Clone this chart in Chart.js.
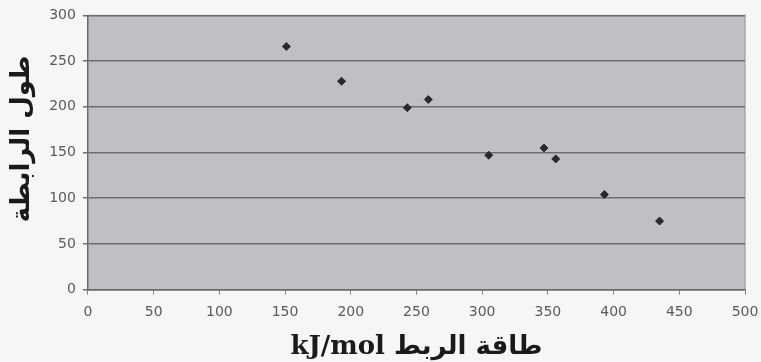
<!DOCTYPE html>
<html>
<head>
<meta charset="utf-8">
<script src="https://cdn.jsdelivr.net/npm/chart.js@4.4.0/dist/chart.umd.min.js"></script>
<style>
    body { margin: 0; background: #f6f6f6; }
    #box { width: 761px; height: 362px; }
</style>
</head>
<body>
<div id="box"><canvas id="myChart" width="761" height="362"></canvas></div>
<script>
var energia = [151, 193, 243, 259, 305, 347, 356, 393, 435];
var lunghezza = [266, 228, 199, 208, 147, 155, 143, 104, 75];
var titolo_x = 'kJ/mol طاقة الربط';
// spazi davanti per alzare un po' il testo come nell'originale
var titolo_y = '\u00a0\u00a0\u00a0طول الرابطة';

var sfondo_area = {
    id: 'sfondo_area',
    beforeDraw: function (chart) {
        var a = chart.chartArea;
        var ctx = chart.ctx;
        ctx.save();
        ctx.fillStyle = '#c0c0c4';
        ctx.fillRect(a.left, a.top, a.right - a.left, a.bottom - a.top);
        ctx.strokeStyle = '#a8a8ac';
        ctx.lineWidth = 1.5;
        ctx.beginPath();
        ctx.moveTo(a.left, a.top);
        ctx.lineTo(a.right, a.top);
        ctx.lineTo(a.right, a.bottom);
        ctx.stroke();
        ctx.restore();
    }
};

function punti() {
    var out = [];
    for (var i = 0; i < energia.length; i++) {
        out.push({ x: energia[i], y: lunghezza[i] });
    }
    return out;
}

function chart1() {
    var ctx = document.getElementById('myChart').getContext('2d');
    new Chart(ctx, {
        type: 'scatter',
        data: {
            datasets: [{
                data: punti(),
                pointStyle: 'rectRot',
                pointRadius: 4,
                backgroundColor: '#2a2a2e',
                borderColor: '#2a2a2e',
                borderWidth: 1
            }]
        },
        options: {
            responsive: false,
            animation: false,
            layout: { padding: { top: 10, right: 0, left: 7, bottom: 0 } },
            plugins: { legend: { display: false }, tooltip: { enabled: false } },
            scales: {
                x: {
                    min: 0, max: 500,
                    afterFit: function (scale) { scale.paddingRight = 16; },
                    ticks: { stepSize: 50, color: '#5a5a5a', font: { family: 'DejaVu Sans', size: 14 }, padding: 9 },
                    grid: { drawOnChartArea: false, drawTicks: true, tickLength: 5, color: '#808080' },
                    border: { color: '#6a6a6a', width: 1.5 },
                    title: {
                        display: true, text: titolo_x, color: '#1a1a1a',
                        font: { family: "'DejaVu Serif', 'DejaVu Sans'", size: 26, weight: 'bold', lineHeight: 1.1 },
                        padding: { top: 4, bottom: 0 }
                    }
                },
                y: {
                    min: 0, max: 300,
                    ticks: { stepSize: 50, color: '#5a5a5a', font: { family: 'DejaVu Sans', size: 14 }, padding: 7 },
                    grid: { color: '#6e6e6e', lineWidth: 1.5, drawTicks: true, tickLength: 5 },
                    border: { color: '#6a6a6a', width: 1.5 },
                    title: {
                        display: true, text: titolo_y, color: '#1a1a1a',
                        font: { family: 'DejaVu Sans', size: 26, weight: 'bold' },
                        padding: { top: 0, bottom: 4 }
                    }
                }
            }
        },
        plugins: [sfondo_area]
    });
}

chart1();
</script>
</body>
</html>
